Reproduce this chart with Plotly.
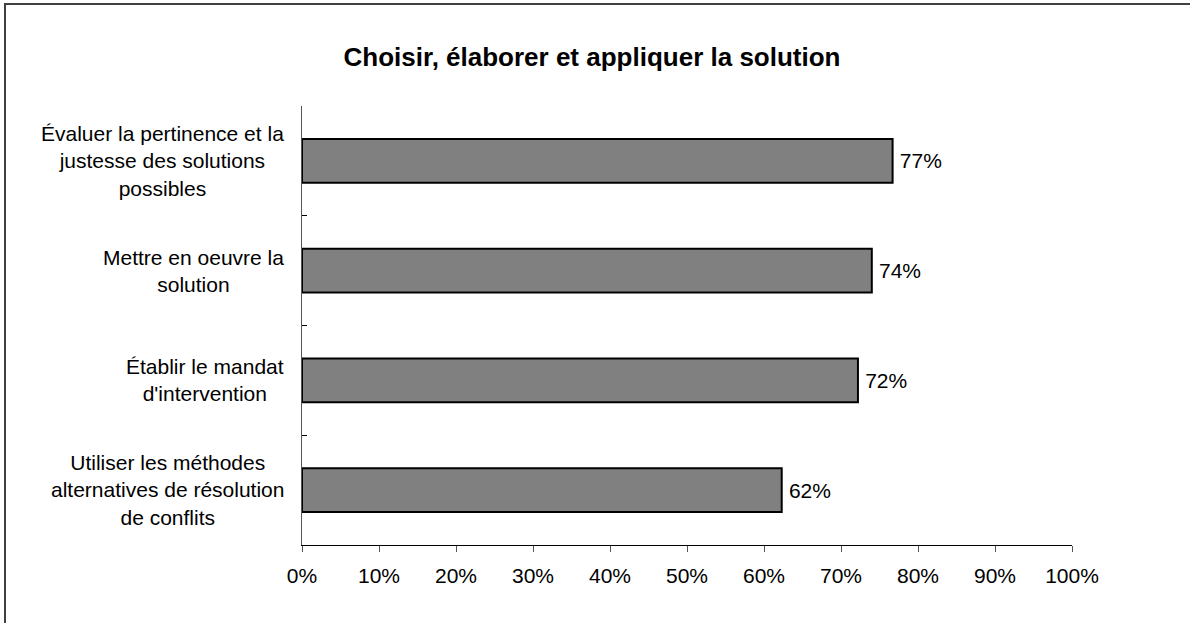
import plotly.graph_objects as go

# données
categories = [
    "Évaluer la pertinence et la<br>justesse des solutions<br>possibles",
    "Mettre en oeuvre la<br>solution",
    "Établir le mandat<br>d'intervention",
    "Utiliser les méthodes<br>alternatives de résolution<br>de conflits",
]
values = [0.767, 0.740, 0.722, 0.623]
x_ticks = [0, 0.1, 0.2, 0.3, 0.4, 0.5, 0.6, 0.7, 0.8, 0.9, 1.0]

_FONT = "Liberation Sans, Arial, sans-serif"
W, H = 1190, 623
L, R, T, B = 302, 1190 - 1072, 106, 623 - 545
PW, PH = W - L - R, H - T - B

fig = go.Figure()
fig.add_trace(go.Bar(
    x=values, y=list(range(len(categories))),
    orientation="h",
    width=0.4,
    marker=dict(color="#808080", line=dict(color="#000000", width=2)),
    texttemplate="\u2009%{x:.0%}",
    textposition="outside",
    textfont=dict(size=21, color="#000000", family=_FONT),
    cliponaxis=False,
    showlegend=False,
))

# libellés des catégories, centrés dans leur bloc
for i, cat in enumerate(categories):
    fig.add_annotation(
        x=-16 / PW, xref="paper", y=i, yref="y",
        text=cat, showarrow=False,
        xanchor="right", yanchor="middle", align="center",
        font=dict(size=21, color="#000000", family=_FONT),
    )

# cadre extérieur (bords droit et bas hors image)
fig.add_shape(
    type="rect", xref="paper", yref="paper",
    x0=(5 - L) / PW, x1=1.5, y0=-0.5, y1=(T + PH - 4) / PH,
    line=dict(color="#404040", width=2), fillcolor="rgba(0,0,0,0)",
    layer="below",
)

fig.update_layout(
    width=W, height=H,
    margin=dict(l=L, r=R, t=T, b=B),
    plot_bgcolor="#fff",
    paper_bgcolor="#fff",
    font=dict(family=_FONT, size=21, color="#000000"),
    title=dict(
        text="<b>Choisir, élaborer et appliquer la solution</b>",
        x=592 / W, xanchor="center",
        y=1 - 57 / H, yanchor="middle",
        xref="container",
        font=dict(size=26, color="#000000", family=_FONT),
    ),
    xaxis=dict(
        range=[0, 1], tickvals=x_ticks, tickformat=".0%",
        showgrid=False, zeroline=False,
        showline=True, linecolor="#000000", linewidth=1,
        ticks="outside", ticklen=6, tickcolor="#555",
        ticklabelstandoff=6,
        tickfont=dict(size=21, color="#000000"),
    ),
    yaxis=dict(
        range=[3.5, -0.5],
        tickvals=[-0.5, 0.5, 1.5, 2.5, 3.5], ticktext=[""] * 5,
        showgrid=False, zeroline=False,
        showline=True, linecolor="#555", linewidth=1,
        ticks="inside", ticklen=5, tickcolor="#000000",
    ),
)

# pas de marge autour du graphique dans la page
fig.write_html(
    "out.html",
    config={"displayModeBar": False},
    post_script="document.body.style.margin='0';",
)
